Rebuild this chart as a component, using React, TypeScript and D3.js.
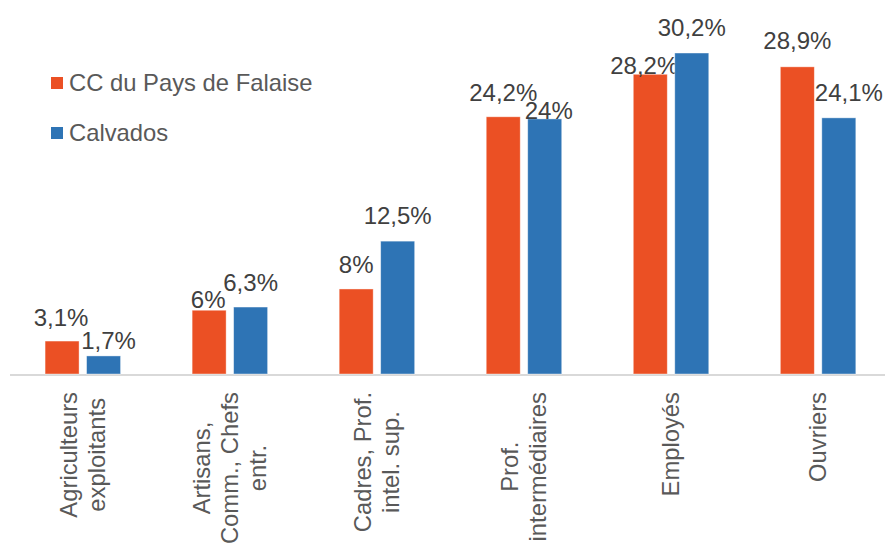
import React, { useEffect, useRef } from "react";
import * as d3 from "d3";

const categories: string[] = [
  "Agriculteurs\nexploitants",
  "Artisans,\nComm., Chefs\nentr.",
  "Cadres, Prof.\nintel. sup.",
  "Prof.\nintermédiaires",
  "Employés",
  "Ouvriers",
];
const seriesNames: string[] = ["CC du Pays de Falaise", "Calvados"];
const falaiseValues: number[] = [3.1, 6, 8, 24.2, 28.2, 28.9];
const calvadosValues: number[] = [1.7, 6.3, 12.5, 24, 30.2, 24.1];
const seriesColors: string[] = ["#EB5024", "#2E74B5"];

// label placement tweaks (Excel overlap avoidance), [dx, gap above bar]
const falaiseLabelShift: [number, number][] = [[-1, 15], [-1, 2], [0, 16], [0, 16], [-6, 0], [0, 18]];
const calvadosLabelShift: [number, number][] = [[5, 7], [0, 16], [0, 17], [4, 0], [0, 17], [10, 17]];

const W = 885;
const H = 543;

export default function App() {
  const ref = useRef<SVGSVGElement | null>(null);

  useEffect(() => {
    const svg = d3.select(ref.current);
    svg.selectAll("*").remove();

    const baseY = 374;
    const y = d3.scaleLinear().domain([0, 35]).range([baseY, 2]);
    const x0 = d3.scaleBand<number>().domain(d3.range(categories.length)).range([9.3, 891.6]).paddingInner(0).paddingOuter(0);
    const cw = x0.bandwidth();
    const x1 = d3.scaleBand<number>().domain([0, 1]).range([cw / 2 - 37.75, cw / 2 + 37.75]).paddingInner(0.1807).paddingOuter(0);

    const series = [falaiseValues, calvadosValues];
    const shifts = [falaiseLabelShift, calvadosLabelShift];
    const fmt = (v: number) => d3.format(".3~f")(v).replace(".", ",") + "%";

    // axis line
    svg.append("line")
      .attr("x1", 10).attr("x2", W)
      .attr("y1", baseY + 1).attr("y2", baseY + 1)
      .attr("stroke", "#d9d9d9").attr("stroke-width", 2);

    series.forEach((vals, si) => {
      const g = svg.append("g");
      g.selectAll("rect")
        .data(vals)
        .join("rect")
        .attr("x", (_, i) => (x0(i) as number) + (x1(si) as number))
        .attr("width", x1.bandwidth())
        .attr("y", (d) => y(d))
        .attr("height", (d) => baseY - y(d))
        .attr("fill", seriesColors[si])
        .attr("stroke", "#ffffff")
        .attr("stroke-opacity", 0.5)
        .attr("stroke-width", 0.8);

      g.selectAll("text")
        .data(vals)
        .join("text")
        .attr("x", (_, i) => (x0(i) as number) + (x1(si) as number) + x1.bandwidth() / 2 + shifts[si][i][0])
        .attr("y", (d, i) => y(d) - shifts[si][i][1])
        .attr("text-anchor", "middle")
        .attr("font-family", "'Liberation Sans', Arial, sans-serif")
        .attr("font-size", 24)
        .attr("fill", "#404040")
        .text((d) => fmt(d));
    });

    // category labels, rotated
    categories.forEach((c, i) => {
      const lines = c.split("\n");
      const cx = (x0(i) as number) + cw / 2;
      const g = svg.append("g").attr("transform", `translate(${cx},392) rotate(-90)`);
      const texts = lines.map((l, li) =>
        g.append("text")
          .attr("y", (li - (lines.length - 1) / 2) * 28)
          .attr("dy", "0.35em")
          .attr("text-anchor", "middle")
          .attr("font-family", "'Liberation Sans', Arial, sans-serif")
          .attr("font-size", 23.8)
          .attr("fill", "#595959")
          .text(l)
      );
      const maxW = d3.max(texts, (t) => (t.node() as SVGTextElement).getComputedTextLength()) || 0;
      texts.forEach((t) => t.attr("x", -maxW / 2));
    });

    // legend
    const leg = svg.append("g");
    seriesNames.forEach((n, i) => {
      const ly = 91 + i * 50;
      leg.append("rect")
        .attr("x", 51).attr("y", ly - 14).attr("width", 12).attr("height", 12)
        .attr("fill", seriesColors[i]);
      leg.append("text")
        .attr("x", 69).attr("y", ly)
        .attr("font-family", "'Liberation Sans', Arial, sans-serif")
        .attr("font-size", 23.8)
        .attr("fill", "#595959")
        .text(n);
    });
  }, []);

  return (
    <svg
      ref={ref}
      width={W}
      height={H}
      style={{ position: "absolute", left: 0, top: 0, background: "#ffffff" }}
    />
  );
}
